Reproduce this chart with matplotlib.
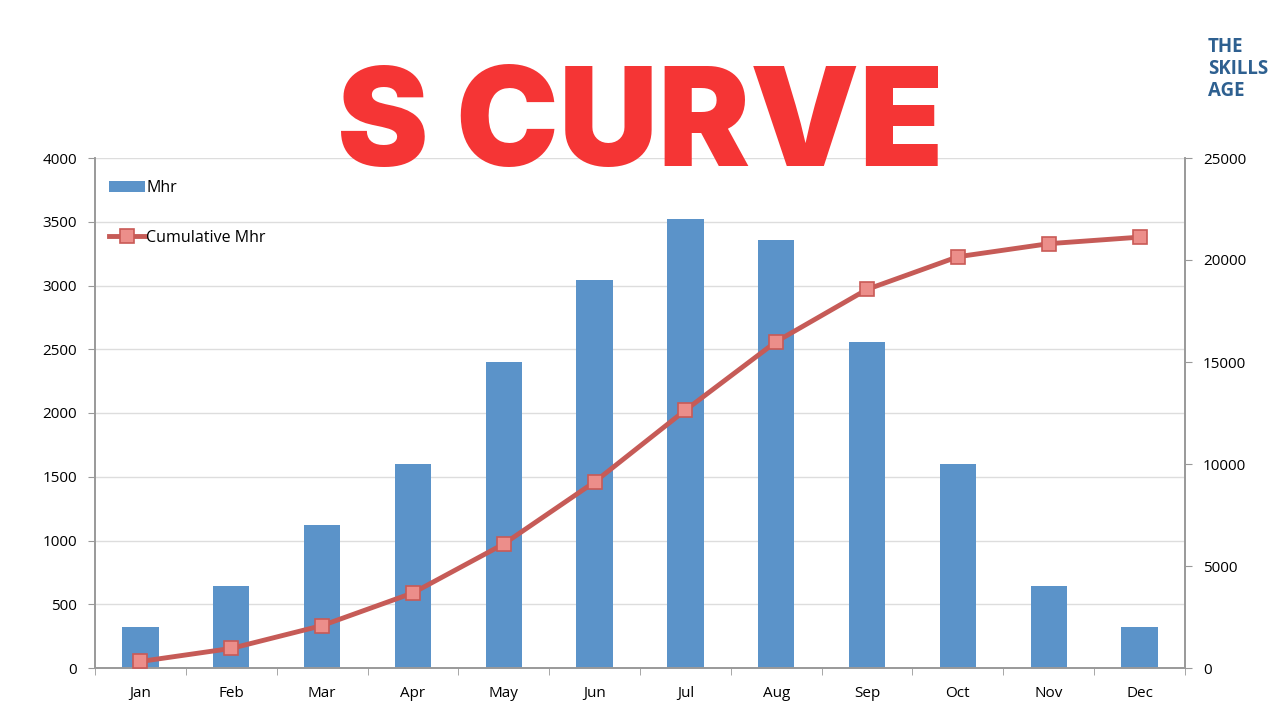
import numpy as np
import matplotlib.pyplot as plt
from matplotlib.ticker import MultipleLocator, FixedLocator

# chart data
months = ["Jan", "Feb", "Mar", "Apr", "May", "Jun",
          "Jul", "Aug", "Sep", "Oct", "Nov", "Dec"]
mhr = [320, 640, 1120, 1600, 2400, 3040, 3520, 3360, 2560, 1600, 640, 320]
cum_mhr = [320, 960, 2080, 3680, 6080, 9120, 12640, 16000, 18560, 20160, 20800, 21120]

plt.rcParams['font.family'] = ['Open Sans', 'DejaVu Sans']

fig = plt.figure(figsize=(12.8, 7.2), dpi=100)
ax = fig.add_axes([95/1280, 52/720, 1090/1280, 510/720])
ax2 = ax.twinx()

x = np.arange(len(months))
bars = ax.bar(x, mhr, width=0.4, color="#5b93c9", label="Mhr", zorder=2)
line, = ax2.plot(x, cum_mhr, color="#c65b57", lw=3.5, marker="s", ms=10,
                 mfc="#ec8e8a", mec="#c95a56", mew=1.2, label="Cumulative Mhr", zorder=3)

ax.set_xlim(-0.5, 11.5)
ax.set_ylim(0, 4000)
ax2.set_ylim(0, 25000)
ax.yaxis.set_major_locator(MultipleLocator(500))
ax2.yaxis.set_major_locator(MultipleLocator(5000))
ax.set_xticks(x)
ax.set_xticklabels(months)
ax.xaxis.set_minor_locator(FixedLocator(np.arange(-0.5, 12, 1)))
ax.tick_params(axis="x", which="major", length=0, pad=13, labelsize=11)
ax.tick_params(axis="x", which="minor", length=5, color="#999999", direction="out")
ax.tick_params(axis="y", length=5, color="#999999", labelsize=11, pad=8)
ax2.tick_params(axis="y", length=5, color="#999999", labelsize=11, pad=8)

ax.grid(axis="y", color="#dddddd", lw=1, zorder=0)
ax.set_axisbelow(True)
for a in (ax, ax2):
    a.spines["top"].set_visible(False)
    for s in ("left", "right", "bottom"):
        a.spines[s].set_color("#999999")
        a.spines[s].set_linewidth(1.2)

ax2.legend([bars, line], ["Mhr", "Cumulative Mhr"], loc="upper left",
           bbox_to_anchor=(0.0, 0.985), frameon=False, fontsize=11.5,
           labelspacing=2.1, handlelength=2.2, handletextpad=0.1, borderaxespad=0.5)

fig.text(0.5, 0.819, "S CURVE", ha="center", va="center", color="#f53535",
         fontsize=99, fontweight="black", family=["Inter", "DejaVu Sans"])
fig.text(1208/1280, 1 - 37/720, "THE\nSKILLS\nAGE", ha="left", va="top",
         color="#2e6090", fontsize=13.5, fontweight="bold", linespacing=1.15,
         family=["Open Sans", "DejaVu Sans"])

plt.savefig("out.png", dpi=100)
